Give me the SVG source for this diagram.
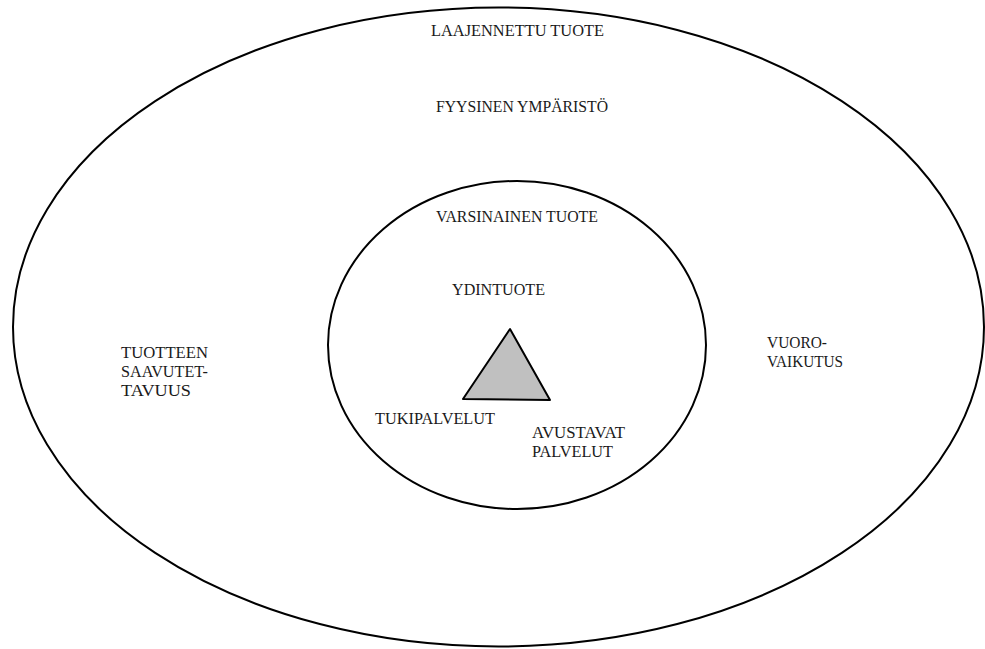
<svg xmlns="http://www.w3.org/2000/svg" width="985" height="649" viewBox="0 0 985 649">
<style>
.ring{fill:none;stroke:#000;stroke-width:2}
</style>
<rect width="985" height="649" fill="#fff"/>
<g font-family="'Liberation Serif', 'DejaVu Serif', serif" font-size="17" fill="#1a1a1a">
<g id="outer">
<ellipse class="ring" cx="498.5" cy="327" rx="485.5" ry="319.5"/>
<text x="431" y="36" textLength="173" lengthAdjust="spacingAndGlyphs">LAAJENNETTU TUOTE</text>
<text x="436" y="112" textLength="172" lengthAdjust="spacingAndGlyphs">FYYSINEN YMPÄRISTÖ</text>
</g>
<g id="access">
<text x="121" y="358" textLength="87" lengthAdjust="spacingAndGlyphs">TUOTTEEN</text>
<text x="121" y="377" textLength="87" lengthAdjust="spacingAndGlyphs">SAAVUTET-</text>
<text x="121" y="396" textLength="70" lengthAdjust="spacingAndGlyphs">TAVUUS</text>
</g>
<g id="interaction">
<text x="767" y="348" textLength="60" lengthAdjust="spacingAndGlyphs">VUORO-</text>
<text x="767" y="367" textLength="76" lengthAdjust="spacingAndGlyphs">VAIKUTUS</text>
</g>
<g id="inner">
<ellipse class="ring" cx="517" cy="345" rx="189" ry="164"/>
<text x="436" y="222" textLength="162" lengthAdjust="spacingAndGlyphs">VARSINAINEN TUOTE</text>
</g>
<g id="core">
<text x="452" y="295" textLength="93" lengthAdjust="spacingAndGlyphs">YDINTUOTE</text>
<polygon points="510,329 463,399 550,400" fill="#c0c0c0" stroke="#000" stroke-width="2" stroke-linejoin="round"/>
</g>
<g id="support">
<text x="375" y="424" textLength="120" lengthAdjust="spacingAndGlyphs">TUKIPALVELUT</text>
</g>
<g id="auxiliary">
<text x="532" y="438" textLength="93" lengthAdjust="spacingAndGlyphs">AVUSTAVAT</text>
<text x="532" y="457" textLength="81" lengthAdjust="spacingAndGlyphs">PALVELUT</text>
</g>
</g>
<g id="connectors"/>
</svg>
